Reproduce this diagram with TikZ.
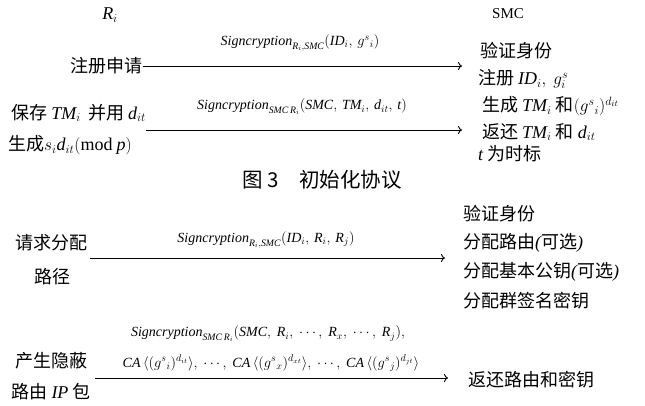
\documentclass[tikz,border=0pt]{standalone}
\usepackage{fontspec}
\setmainfont{Liberation Serif}
\newfontfamily\cjk{Noto Sans CJK SC}
\newcommand{\itpar}[1]{{\normalfont\itshape #1}}
\usetikzlibrary{arrows.meta}
\begin{document}
\begin{tikzpicture}[x=1pt,y=-1pt,
  cn/.style={font=\cjk\fontsize{18}{21}\selectfont, inner sep=0pt},
  captionstyle/.style={font=\cjk\fontsize{20.5}{24}\selectfont, inner sep=0pt},
  lbl/.style={font=\fontsize{14}{16}\selectfont, inner sep=0pt},
  hd/.style={font=\fontsize{18}{20}\selectfont, inner sep=0pt},
  msg/.style={line width=0.9pt, -{To[length=4pt,width=8pt]}}]
\useasboundingbox (0,0) rectangle (645,405);

% headers
\node[hd] (ri) at (110,15) {$\mathit{R}_i$};
\node[font=\fontsize{15}{17}\selectfont, inner sep=0pt] (smc) at (508,14) {SMC};

% message 1
\node[cn, anchor=east] (n1) at (143,66) {注册申请};
\coordinate (e1) at (462,66);
\draw[msg] (n1.east) -- (e1);
\node[lbl] (m1) at (300,43) {$\mathit{Signcryption}_{\mathit{R}_i,\mathit{SMC}}(\mathit{ID}_i,\, g^s{}_i)$};
\node[cn, anchor=west] (r1) at (480,51) {验证身份};
\node[cn, anchor=west] (r2) at (478,79) {注册 $\mathit{ID}_i,\ g^{s}_{i}$};

% message 2
\node[cn, anchor=east] (n2a) at (146,113) {保存 $\mathit{TM}_i$\, 并用 $\mathit{d}_{it}$};
\node[cn, anchor=west] (n2b) at (8,145) {生成$s_i \mathit{d}_{it}(\mathrm{mod}\ \mathit{p})$};
\coordinate (s2) at (146,130);
\coordinate (e2) at (462,130);
\draw[msg] (s2) -- (e2);
\node[lbl] (m2) at (302,107) {$\mathit{Signcryption}_{\mathit{SMC}\,\mathit{R}_i}(\mathit{SMC},\, \mathit{TM}_i,\, \mathit{d}_{it},\, \mathit{t})$};
\node[cn, anchor=west] (r3) at (482,106) {生成 $\mathit{TM}_i$ 和$(g^s{}_i)^{d_{it}}$};
\node[cn, anchor=west] (r4) at (482,132) {返还 $\mathit{TM}_i$ 和 $\mathit{d}_{it}$};
\node[cn, anchor=west] (r5) at (478,154) {$\mathit{t}$ 为时标};

% caption
\node[captionstyle] (capt) at (322,180) {图 3\quad 初始化协议};

% message 3
\node[cn] (n3a) at (52,243) {请求分配};
\node[cn] (n3b) at (52,277) {路径};
\coordinate (s3) at (90,258);
\coordinate (e3) at (445,258);
\draw[msg] (s3) -- (e3);
\node[lbl] (m3) at (266,240) {$\mathit{Signcryption}_{\mathit{R}_i,\mathit{SMC}}(\mathit{ID}_i,\, \mathit{R}_i,\, \mathit{R}_j)$};
\node[cn, anchor=west] (q1) at (463,214) {验证身份};
\node[cn, anchor=west] (q2) at (463,243) {分配路由\itpar{(}可选\itpar{)}};
\node[cn, anchor=west] (q3) at (463,272) {分配基本公钥\itpar{(}可选\itpar{)}};
\node[cn, anchor=west] (q4) at (463,301) {分配群签名密钥};

% message 4
\node[cn] (n4a) at (52,361) {产生隐蔽};
\node[cn] (n4b) at (51,392) {路由 $\mathit{IP}$ 包};
\coordinate (s4) at (95,378);
\coordinate (e4) at (448,378);
\draw[msg] (s4) -- (e4);
\node[lbl] (m4a) at (268,334) {$\mathit{Signcryption}_{\mathit{SMC}\,\mathit{R}_i}(\mathit{SMC},\ \mathit{R}_i,\ \cdots,\ \mathit{R}_x,\ \cdots,\ \mathit{R}_j),$};
\node[lbl] (m4b) at (271,363) {$\mathit{CA}\,\langle (g^s{}_i)^{d_{it}}\rangle,\ \cdots,\ \mathit{CA}\,\langle (g^s{}_x)^{d_{xt}}\rangle,\ \cdots,\ \mathit{CA}\,\langle (g^s{}_j)^{d_{jt}}\rangle$};
\node[cn, anchor=west] (q5) at (468,380) {返还路由和密钥};
\end{tikzpicture}
\end{document}
